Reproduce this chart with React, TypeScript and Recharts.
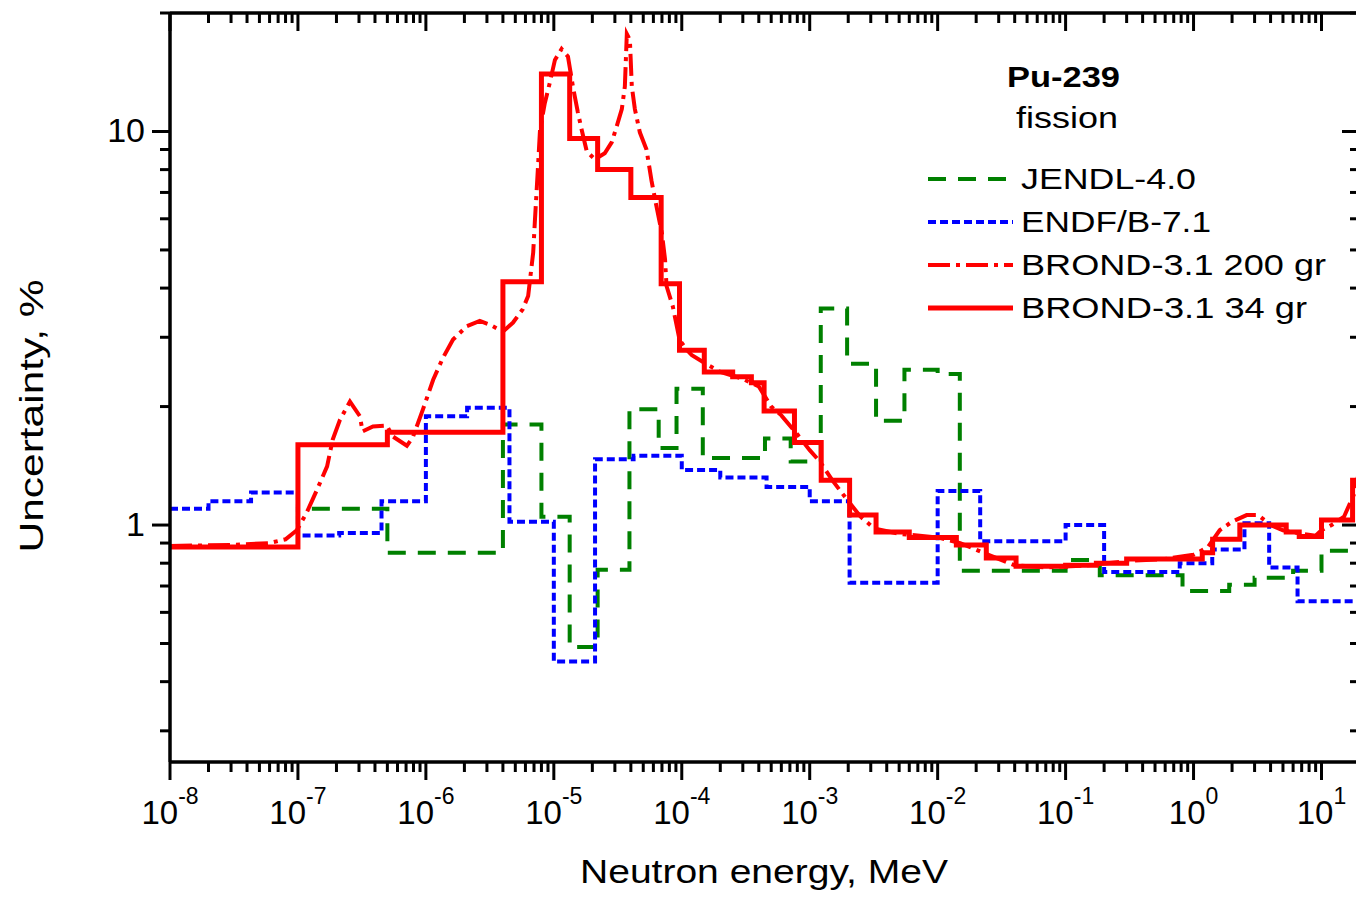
import React from 'react';
import { LineChart, Line, XAxis, YAxis } from 'recharts';

const FONT = '"Liberation Sans", Arial, Helvetica, sans-serif';

// ---------- data ----------
// JENDL-4.0 (group boundaries in MeV, uncertainty in %)
const jendlEnergy = [1e-8, 1e-7, 5e-7, 4e-6, 8e-6, 1.33e-5, 2.2e-5, 3.9e-5, 6.6e-5, 9.1e-5, 1.46e-4, 4.47e-4, 7.1e-4, 1.22e-3, 1.96e-3, 3.3e-3, 5.5e-3, 1e-2, 1.49e-2, 0.1, 0.185, 0.82, 1.9, 3.0, 6.0, 10, 20];
const jendlUnc = [0.88, 1.1, 0.85, 1.8, 1.05, 0.49, 0.77, 1.97, 1.57, 2.22, 1.48, 1.66, 1.45, 3.55, 2.57, 1.84, 2.48, 2.42, 0.765, 0.815, 0.745, 0.68, 0.705, 0.735, 0.765, 0.86, 0.86];

// ENDF/B-7.1
const endfEnergy = [1e-8, 2e-8, 4.3e-8, 1e-7, 2.1e-7, 4.5e-7, 1e-6, 2.1e-6, 4.5e-6, 1e-5, 2.1e-5, 4.2e-5, 1e-4, 2e-4, 4.6e-4, 1e-3, 2.05e-3, 1e-2, 2.15e-2, 0.1, 0.2, 0.78, 1.4, 2.5, 3.9, 6.5, 20];
const endfUnc = [1.1, 1.15, 1.21, 0.94, 0.955, 1.15, 1.89, 1.985, 1.02, 0.45, 1.47, 1.5, 1.38, 1.32, 1.25, 1.15, 0.713, 1.22, 0.91, 1.0, 0.76, 0.8, 0.867, 1.01, 0.78, 0.64, 0.64];

// BROND-3.1 200 groups
const brond200Energy = [1e-8, 3e-8, 6e-8, 8e-8, 9.8e-8, 1.17e-7, 1.41e-7, 1.69e-7, 1.87e-7, 2.13e-7, 2.55e-7, 3.05e-7, 3.2e-7, 3.86e-7, 4.95e-7, 5.5e-7, 7.1e-7, 7.9e-7, 9.5e-7, 1.14e-6, 1.36e-6, 1.63e-6, 2.09e-6, 2.64e-6, 3.16e-6, 4.0e-6, 4.8e-6, 5.7e-6, 6.3e-6, 6.9e-6, 7.1e-6, 7.5e-6, 7.8e-6, 8.5e-6, 9.3e-6, 1.02e-5, 1.15e-5, 1.29e-5, 1.41e-5, 1.54e-5, 1.65e-5, 1.81e-5, 2.09e-5, 2.5e-5, 2.84e-5, 3.1e-5, 3.4e-5, 3.59e-5, 3.72e-5, 3.93e-5, 4.07e-5, 4.3e-5, 4.7e-5, 5.3e-5, 5.8e-5, 6.2e-5, 7.0e-5, 7.4e-5, 7.6e-5, 8.5e-5, 9.6e-5, 1.09e-4, 1.2e-4, 1.6e-4, 2.0e-4, 3e-4, 4e-4, 5e-4, 6e-4, 8e-4, 1.0e-3, 1.2e-3, 1.5e-3, 2.0e-3, 2.5e-3, 3.2e-3, 5e-3, 1e-2, 1.5e-2, 2.5e-2, 4e-2, 7e-2, 0.15, 0.3, 0.6, 1.0, 1.3, 1.6, 2.0, 2.6, 3.2, 4.0, 5.0, 7, 9, 10, 12, 15, 18, 20];
const brond200Unc = [0.885, 0.89, 0.9, 0.92, 0.97, 1.075, 1.23, 1.41, 1.65, 1.85, 2.06, 1.89, 1.73, 1.78, 1.79, 1.68, 1.59, 1.67, 1.97, 2.34, 2.66, 2.96, 3.2, 3.3, 3.23, 3.1, 3.27, 3.53, 3.82, 4.93, 5.87, 8.0, 10.1, 11.8, 13.3, 15.2, 16.2, 15.5, 13.0, 11.2, 10.1, 8.9, 8.5, 8.8, 9.4, 10.3, 11.4, 13.0, 17.7, 17.1, 13.0, 11.4, 9.95, 9.0, 7.5, 6.7, 5.5, 4.73, 4.05, 3.6, 2.96, 2.79, 2.7, 2.55, 2.45, 2.35, 2.25, 2.0, 1.9, 1.7, 1.55, 1.45, 1.3, 1.15, 1.05, 0.98, 0.95, 0.93, 0.9, 0.84, 0.79, 0.78, 0.79, 0.81, 0.82, 0.84, 0.88, 0.97, 1.02, 1.06, 1.06, 1.0, 0.97, 0.95, 0.94, 0.97, 1.0, 1.05, 1.2, 1.4];

// BROND-3.1 34 groups
const brond34Energy = [1e-8, 1e-7, 5e-7, 4e-6, 8e-6, 1.33e-5, 2.2e-5, 4e-5, 6.9e-5, 9.6e-5, 1.5e-4, 2.5e-4, 3.5e-4, 4.4e-4, 7.6e-4, 1.23e-3, 2.05e-3, 3.3e-3, 6e-3, 1.4e-2, 2.4e-2, 4.1e-2, 1.0e-1, 1.74e-1, 3.0e-1, 1.17, 1.41, 2.3, 5.3, 6.7, 10, 17.5, 20];
const brond34Unc = [0.88, 1.6, 1.72, 4.15, 14, 9.6, 8.0, 6.8, 4.1, 2.78, 2.45, 2.38, 2.3, 1.95, 1.62, 1.3, 1.06, 0.96, 0.93, 0.89, 0.825, 0.786, 0.79, 0.8, 0.82, 0.85, 0.92, 1.0, 0.96, 0.935, 1.03, 1.3, 1.3];

// axis ticks
const xDecadeExponents = [-8, -7, -6, -5, -4, -3, -2, -1, 0, 1];
const minorMultipliers = [2, 3, 4, 5, 6, 7, 8, 9];
const yDecadeExponents = [-1, 0, 1];
const yLabelValues = [1, 10];
const xDomain: [number, number] = [1e-8, 20];
const yDomain: [number, number] = [0.25, 20];

const legendItems = [
  { name: 'JENDL-4.0', color: '#008000', dash: '18 12', width: 4, textLen: 175 },
  { name: 'ENDF/B-7.1', color: '#0000FF', dash: '8 4', width: 4, textLen: 190 },
  { name: 'BROND-3.1 200 gr', color: '#FF0000', dash: '22 6 4 6', width: 4, textLen: 305 },
  { name: 'BROND-3.1 34 gr', color: '#FF0000', dash: undefined as string | undefined, width: 5, textLen: 286 },
];

const toPoints = (e: number[], u: number[]) => e.map((E, i) => ({ E, U: u[i] }));
const jendl = toPoints(jendlEnergy, jendlUnc);
const endf = toPoints(endfEnergy, endfUnc);
const brond200 = toPoints(brond200Energy, brond200Unc);
const brond34 = toPoints(brond34Energy, brond34Unc);

const buildTicks = (exps: number[], lo: number, hi: number) => {
  const out: number[] = [];
  exps.forEach((k) => {
    const base = Math.pow(10, k);
    if (base >= lo && base <= hi) out.push(base);
    minorMultipliers.forEach((m) => {
      const v = m * base;
      if (v >= lo * 0.999 && v <= hi * 1.001) out.push(v);
    });
  });
  return out;
};
const xTicks = buildTicks(xDecadeExponents, xDomain[0], xDomain[1]);
const yTicks = buildTicks(yDecadeExponents, yDomain[0], yDomain[1]);

const isMajor = (v: number) => {
  const lg = Math.log10(v);
  return Math.abs(lg - Math.round(lg)) < 1e-6;
};

const TICK_W = 3;
const MAJOR = 18;
const MINOR = 10;

const BottomTick = (props: any) => {
  const { x, y, payload } = props;
  const v = payload.value;
  const major = isMajor(v);
  const exp = Math.round(Math.log10(v));
  return (
    <g>
      <line x1={x} x2={x} y1={y} y2={y + (major ? MAJOR : MINOR)} stroke="#000" strokeWidth={TICK_W} />
      {major && (
        <text x={x} y={y + 62} textAnchor="middle" fontFamily={FONT} fill="#000">
          <tspan fontSize={33}>10</tspan>
          <tspan fontSize={23} dy={-20}>{String(exp)}</tspan>
        </text>
      )}
    </g>
  );
};

const TopTick = (props: any) => {
  const { x, y, payload } = props;
  const major = isMajor(payload.value);
  return <line x1={x} x2={x} y1={y} y2={y + (major ? MAJOR : MINOR)} stroke="#000" strokeWidth={TICK_W} />;
};

const LeftTick = (props: any) => {
  const { x, y, payload } = props;
  const v = payload.value;
  const major = isMajor(v);
  const showLabel = yLabelValues.some((l) => Math.abs(l - v) < 1e-9);
  return (
    <g>
      <line x1={x - (major ? MAJOR : MINOR)} x2={x} y1={y} y2={y} stroke="#000" strokeWidth={TICK_W} />
      {showLabel && (
        <text x={x - 25} y={y + 11} textAnchor="end" fontFamily={FONT} fontSize={34} fill="#000">
          {String(v)}
        </text>
      )}
    </g>
  );
};

const RightTick = (props: any) => {
  const { x, y, payload } = props;
  const major = isMajor(payload.value);
  return <line x1={x - (major ? MAJOR : MINOR)} x2={x} y1={y} y2={y} stroke="#000" strokeWidth={TICK_W} />;
};

const axisLineStyle = { stroke: '#000', strokeWidth: 3.5 };

export default function App() {
  return (
    <div style={{ position: 'fixed', left: 0, top: 0, width: 1356, height: 897, overflow: 'hidden', background: '#fff' }}>
      <LineChart width={1400} height={897} margin={{ top: 12, right: 39, bottom: 0, left: 0 }}>
        <XAxis
          dataKey="E"
          type="number"
          scale="log"
          domain={xDomain}
          allowDataOverflow
          ticks={xTicks}
          interval={0}
          height={135}
          tickSize={0}
          tickMargin={0}
          tickLine={false}
          axisLine={axisLineStyle}
          tick={BottomTick}
          label={() => (
            <text
              x={764}
              y={883}
              textAnchor="middle"
              fontFamily={FONT}
              fontSize={33}
              textLength={368}
              lengthAdjust="spacingAndGlyphs"
              fill="#000"
            >
              Neutron energy, MeV
            </text>
          )}
        />
        <XAxis
          xAxisId="top"
          orientation="top"
          dataKey="E"
          type="number"
          scale="log"
          domain={xDomain}
          allowDataOverflow
          ticks={xTicks}
          interval={0}
          height={1}
          tickSize={0}
          tickMargin={0}
          tickLine={false}
          axisLine={axisLineStyle}
          tick={TopTick}
        />
        <YAxis
          type="number"
          scale="log"
          domain={yDomain}
          allowDataOverflow
          ticks={yTicks}
          interval={0}
          width={170}
          tickSize={0}
          tickMargin={0}
          tickLine={false}
          axisLine={axisLineStyle}
          tick={LeftTick}
          label={() => (
            <text
              transform="rotate(-90)"
              x={-416}
              y={43}
              textAnchor="middle"
              fontFamily={FONT}
              fontSize={33}
              textLength={273}
              lengthAdjust="spacingAndGlyphs"
              fill="#000"
            >
              Uncertainty, %
            </text>
          )}
        />
        <YAxis
          yAxisId="right"
          orientation="right"
          type="number"
          scale="log"
          domain={yDomain}
          allowDataOverflow
          ticks={yTicks}
          interval={0}
          width={1}
          tickSize={0}
          tickMargin={0}
          tickLine={false}
          axisLine={axisLineStyle}
          tick={RightTick}
        />
        <Line data={jendl} dataKey="U" type="stepAfter" stroke="#008000" strokeWidth={4} strokeDasharray="18 12" dot={false} isAnimationActive={false} />
        <Line data={endf} dataKey="U" type="stepAfter" stroke="#0000FF" strokeWidth={4} strokeDasharray="8 4" dot={false} isAnimationActive={false} />
        <Line data={brond200} dataKey="U" type="linear" stroke="#FF0000" strokeWidth={4} strokeDasharray="22 6 4 6" dot={false} isAnimationActive={false} />
        <Line data={brond34} dataKey="U" type="stepAfter" stroke="#FF0000" strokeWidth={5} dot={false} isAnimationActive={false} />
      </LineChart>
      <svg width={1356} height={897} style={{ position: 'absolute', left: 0, top: 0, pointerEvents: 'none' }}>
        <text x={1063.5} y={87} textAnchor="middle" fontFamily={FONT} fontWeight="bold" fontSize={30} textLength={113} lengthAdjust="spacingAndGlyphs" fill="#000">
          Pu-239
        </text>
        <text x={1067} y={128} textAnchor="middle" fontFamily={FONT} fontSize={30} textLength={102} lengthAdjust="spacingAndGlyphs" fill="#000">
          fission
        </text>
        {legendItems.map((it, i) => {
          const base = 189 + i * 43;
          return (
            <g key={it.name}>
              <line x1={928} x2={1013} y1={base - 10} y2={base - 10} stroke={it.color} strokeWidth={it.width} strokeDasharray={it.dash} />
              <text x={1021} y={base} fontFamily={FONT} fontSize={30} textLength={it.textLen} lengthAdjust="spacingAndGlyphs" fill="#000">
                {it.name}
              </text>
            </g>
          );
        })}
      </svg>
    </div>
  );
}
